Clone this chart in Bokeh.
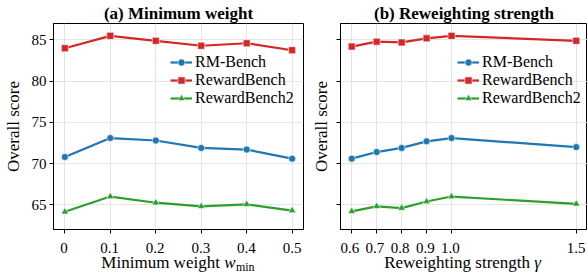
from bokeh.plotting import figure
from bokeh.layouts import row, column
from bokeh.models import Range1d, FixedTicker, Legend, LegendItem, Label
from bokeh.embed import file_html
from bokeh.resources import INLINE

# ---------------- data ----------------
series_names = ["RM-Bench", "RewardBench", "RewardBench2"]
series_colors = ["#1f77b4", "#d62728", "#2ca02c"]
series_markers = ["circle", "square", "triangle"]

wmin = [0, 0.1, 0.2, 0.3, 0.4, 0.5]
wmin_labels = ["0", "0.1", "0.2", "0.3", "0.4", "0.5"]
a_rm_bench = [70.8, 73.1, 72.8, 71.9, 71.7, 70.6]
a_rewardbench = [84.0, 85.5, 84.9, 84.3, 84.6, 83.75]
a_rewardbench2 = [64.15, 66.0, 65.25, 64.8, 65.05, 64.3]

gamma = [0.6, 0.7, 0.8, 0.9, 1.0, 1.5]
gamma_labels = ["0.6", "0.7", "0.8", "0.9", "1.0", "1.5"]
b_rm_bench = [70.6, 71.4, 71.9, 72.7, 73.1, 72.0]
b_rewardbench = [84.2, 84.8, 84.7, 85.2, 85.5, 84.9]
b_rewardbench2 = [64.2, 64.8, 64.6, 65.4, 66.0, 65.1]

y_ticks = [65, 70, 75, 80, 85]

titles = ["(a) Minimum weight", "(b) Reweighting strength"]
# x-axis labels: (main text, italic symbol, subscript)
xlabel_parts = [("Minimum weight", "w", "min"), ("Reweighting strength", "γ", "")]

FONT = "Liberation Serif"
FIG_H = 234
STRIP_H = 38
STRIP_TOP = 19
Y0, Y1 = 62, 87


def make_panel(xs, ys_list, ticks, xr, width, border_left, border_right,
               show_ylabels, title):
    p = figure(width=width, height=FIG_H, output_backend="svg", toolbar_location=None,
               x_range=xr, y_range=Range1d(Y0, Y1),
               min_border_left=border_left, min_border_right=border_right,
               min_border_top=23, min_border_bottom=5)
    p.title.text = title
    p.title.text_font = FONT
    p.title.text_font_size = "17px"
    p.title.text_font_style = "bold"
    p.title.text_color = "black"
    p.title.align = "center"
    p.title.standoff = 2
    p.title.text_line_height = 0.8
    p.outline_line_color = "black"
    p.outline_line_width = 1
    p.background_fill_color = "white"
    p.border_fill_color = "white"

    # bottom axis only carries the tick marks; its numbers sit in the strip below
    p.xaxis.ticker = FixedTicker(ticks=ticks)
    p.xaxis.major_label_overrides = {t: "" for t in ticks}
    p.xaxis.major_label_text_font_size = "1px"
    p.xaxis.major_label_standoff = 0
    p.yaxis.ticker = FixedTicker(ticks=y_ticks)
    for ax in (p.xaxis, p.yaxis):
        ax.axis_line_color = "black"
        ax.major_tick_line_color = "black"
        ax.major_tick_out = 4
        ax.major_tick_in = 0
        ax.minor_tick_line_color = None
        ax.major_label_text_font = FONT
        ax.major_label_text_color = "black"
        ax.axis_label_text_font = FONT
        ax.axis_label_text_font_size = "17px"
        ax.axis_label_text_font_style = "normal"
        ax.axis_label_text_color = "black"
    p.yaxis.major_label_text_font_size = "15px"
    p.yaxis.major_label_standoff = 3
    p.yaxis.axis_label = "Overall score"
    p.yaxis.axis_label_standoff = 6
    if not show_ylabels:
        p.yaxis.major_label_overrides = {t: "" for t in y_ticks}
        p.yaxis.major_label_standoff = 0

    p.xgrid.ticker = FixedTicker(ticks=ticks)
    p.ygrid.ticker = FixedTicker(ticks=y_ticks)
    p.grid.grid_line_color = "#dedede"
    p.grid.grid_line_width = 0.8

    items = []
    for ys, name, col, mk in zip(ys_list, series_names, series_colors, series_markers):
        lr = p.line(xs, ys, line_color=col, line_width=2.2)
        sr = p.scatter(xs, ys, marker=mk, size=7 if mk != "triangle" else 7.5,
                       fill_color=col, line_color="white", line_width=0.6)
        items.append(LegendItem(label=name, renderers=[lr, sr]))
    leg = Legend(items=items, location=(117, 122), padding=0, margin=0,
                 spacing=0, label_height=18, glyph_height=18, glyph_width=22,
                 label_standoff=3, border_line_color=None,
                 background_fill_alpha=0, label_text_font=FONT,
                 label_text_font_size="16px", label_text_color="black")
    p.add_layout(leg, "center")
    return p


def label_strip(xr, ticks, tick_labels, width, border_left, border_right,
                parts, main_w, sym_w, shift):
    """Canvas under a panel: tick numbers (top axis) and the composed x-axis label."""
    s = figure(width=width, height=STRIP_H, output_backend="svg", toolbar_location=None,
               x_range=xr, y_range=Range1d(0, STRIP_H - STRIP_TOP),
               min_border_left=border_left, min_border_right=border_right,
               min_border_top=STRIP_TOP, min_border_bottom=0,
               x_axis_location="above", y_axis_location=None)
    s.outline_line_color = None
    s.grid.grid_line_color = None
    s.background_fill_color = "white"
    s.border_fill_color = "white"
    ax = s.xaxis[0]
    ax.ticker = FixedTicker(ticks=ticks)
    ax.major_label_overrides = {t: l for t, l in zip(ticks, tick_labels)}
    ax.axis_line_color = None
    ax.major_tick_line_color = None
    ax.minor_tick_line_color = None
    ax.major_tick_out = 0
    ax.major_tick_in = 0
    ax.major_label_standoff = 1
    ax.major_label_text_font = FONT
    ax.major_label_text_font_size = "15px"
    ax.major_label_text_color = "black"

    x0, x1 = xr.start, xr.end
    frame_w = width - border_left - border_right
    upp = (x1 - x0) / frame_w  # data units per pixel along x
    main, sym, sub = parts
    sub_w = 18.7 if sub else 0
    total = main_w + 4.25 + sym_w + (0.5 + sub_w if sub else 0)
    split_px = frame_w / 2 - total / 2 + main_w + shift
    mid = 10
    s.add_layout(Label(x=x0 + split_px * upp, y=mid, text=main, text_font=FONT,
                       text_font_size="17px", text_align="right",
                       text_baseline="middle", text_color="black"))
    s.add_layout(Label(x=x0 + (split_px + 4.25) * upp, y=mid, text=sym, text_font=FONT,
                       text_font_size="17px", text_font_style="italic",
                       text_align="left", text_baseline="middle", text_color="black"))
    if sub:
        s.add_layout(Label(x=x0 + (split_px + 4.25 + sym_w + 0.5) * upp, y=mid - 4.2,
                           text=sub, text_font=FONT, text_font_size="12px",
                           text_align="left", text_baseline="middle",
                           text_color="black"))
    return s


xr1 = Range1d(-0.025, 0.525)
xr2 = Range1d(0.555, 1.545)

p1 = make_panel(wmin, [a_rm_bench, a_rewardbench, a_rewardbench2], wmin, xr1,
                308, 52, 5, True, titles[0])
p2 = make_panel(gamma, [b_rm_bench, b_rewardbench, b_rewardbench2], gamma, xr2,
                279, 30, 0, False, titles[1])

s1 = label_strip(xr1, wmin, wmin_labels, 308, 52, 5, xlabel_parts[0], 118.5, 11.3, 0)
s2 = label_strip(xr2, gamma, gamma_labels, 279, 30, 0, xlabel_parts[1], 145.9, 7.5, 0)

layout = column(row(p1, p2), row(s1, s2))
open("out.html", "w").write(file_html(layout, INLINE))
